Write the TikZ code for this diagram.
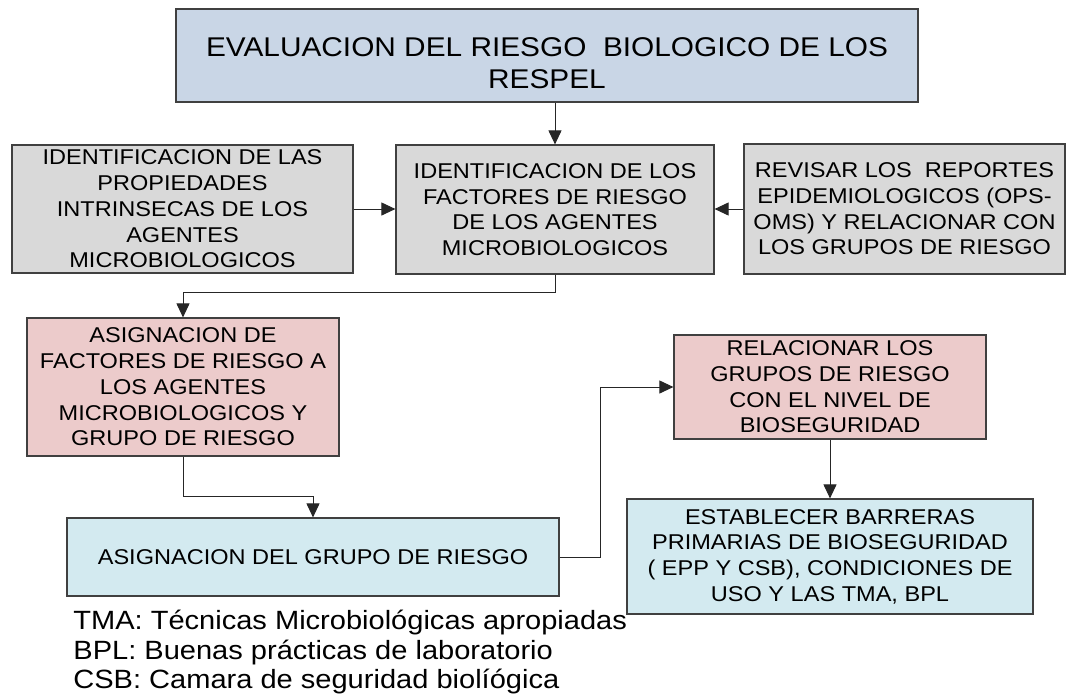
\documentclass[tikz,border=0pt]{standalone}
\usepackage{fontspec}
\setmainfont{Liberation Sans}[FakeStretch=1.1]
\usetikzlibrary{arrows.meta}

\definecolor{titlefill}{RGB}{201,214,230}
\definecolor{grayfill}{RGB}{217,217,217}
\definecolor{pinkfill}{RGB}{236,203,203}
\definecolor{cyanfill}{RGB}{211,234,240}
\definecolor{boxline}{RGB}{64,64,64}

\begin{document}
\begin{tikzpicture}[
    x=0.5pt, y=-0.5pt,
    box/.style={draw=boxline, line width=0.6pt, align=center, inner sep=0pt,
        font=\fontsize{10.7}{12.85}\selectfont},
    arr/.style={-{Triangle[length=7pt,width=6.5pt]}, line width=0.5pt, draw=black!85}
]

% Frame
\useasboundingbox (0,0) rectangle (1067,698);

% Title
\node[box, fill=titlefill, minimum width=371pt, minimum height=46.5pt,
    font=\fontsize{13.55}{16}\selectfont] (title) at (547,55.5)
    {\rule{0pt}{17pt}EVALUACION DEL RIESGO\ \ BIOLOGICO DE LOS\\RESPEL};

% First row
\node[box, fill=grayfill, minimum width=170.5pt, minimum height=64pt] (propiedades) at (182.5,209)
    {IDENTIFICACION DE LAS\\PROPIEDADES\\INTRINSECAS DE LOS\\AGENTES\\MICROBIOLOGICOS};
\node[box, fill=grayfill, minimum width=159pt, minimum height=64.5pt] (factores) at (555,209.5)
    {IDENTIFICACION DE LOS\\FACTORES DE RIESGO\\DE LOS AGENTES\\MICROBIOLOGICOS};
\node[box, fill=grayfill, minimum width=160.5pt, minimum height=65pt] (reportes) at (904.5,209)
    {REVISAR LOS\ \ REPORTES\\EPIDEMIOLOGICOS (OPS-\\OMS) Y RELACIONAR CON\\LOS GRUPOS DE RIESGO};

% Risk assignment
\node[box, fill=pinkfill, minimum width=156pt, minimum height=69pt] (asigfactores) at (183,387)
    {ASIGNACION DE\\FACTORES DE RIESGO A\\LOS AGENTES\\MICROBIOLOGICOS Y\\GRUPO DE RIESGO};
\node[box, fill=cyanfill, minimum width=246pt, minimum height=39pt] (asiggrupo) at (313,557)
    {ASIGNACION DEL GRUPO DE RIESGO};
\node[box, fill=pinkfill, minimum width=156pt, minimum height=52pt] (relacionar) at (830,387)
    {RELACIONAR LOS\\GRUPOS DE RIESGO\\CON EL NIVEL DE\\BIOSEGURIDAD};
\node[box, fill=cyanfill, minimum width=203pt, minimum height=57.5pt] (barreras) at (830,556.5)
    {ESTABLECER BARRERAS\\PRIMARIAS DE BIOSEGURIDAD\\( EPP Y CSB), CONDICIONES DE\\USO Y LAS TMA, BPL};

% Notes
\node[anchor=north west, align=left, inner sep=0pt,
    font=\fontsize{13.2}{14.6}\selectfont] (notas) at (73,610)
    {TMA: Técnicas Microbiológicas apropiadas\\BPL: Buenas prácticas de laboratorio\\CSB: Camara de seguridad biolíógica};

% Connectors
\draw[arr] (title.south -| factores.north) -- (factores.north);
\draw[arr] (propiedades.east) -- (propiedades.east -| factores.west);
\draw[arr] (reportes.west) -- (reportes.west -| factores.east);
\draw[arr] (factores.south) -- ++(0,18) -| (asigfactores.north);
\draw[arr] (asigfactores.south) -- ++(0,40) -| (asiggrupo.north);
\draw[arr] (asiggrupo.east) -- ++(41,0) |- (relacionar.west);
\draw[arr] (relacionar.south) -- (barreras.north);

\end{tikzpicture}
\end{document}
